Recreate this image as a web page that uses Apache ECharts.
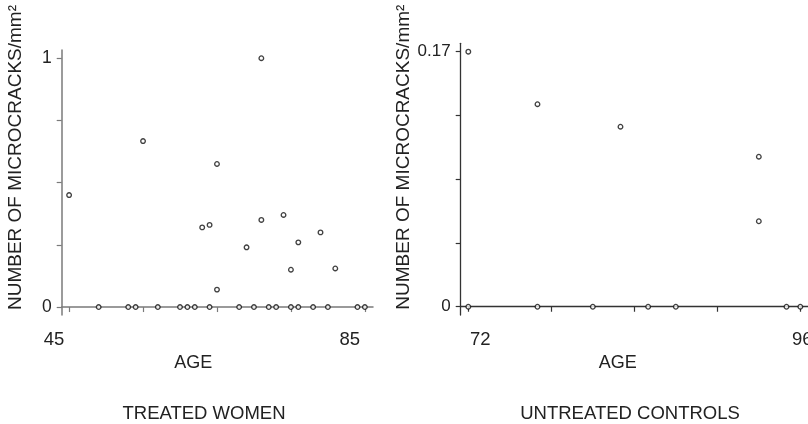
<!DOCTYPE html>
<html>
<head>
<meta charset="utf-8">
<script src="https://cdn.jsdelivr.net/npm/echarts@6/dist/echarts.min.js"></script>
<style>
html,body{margin:0;padding:0;background:#fff;}
#chart{width:808px;height:424px;}
</style>
</head>
<body>
<div id="chart"></div>
<script>
// Treated women
var treatedAge   = [45, 55, 63, 64, 65, 65, 69, 71, 71, 74, 75, 76, 79, 81,
                    49, 53, 54, 57, 60, 61, 62, 64, 68, 70, 72, 73, 75, 76, 78, 80, 84, 85];
var treatedValue = [0.45, 0.667, 0.32, 0.33, 0.575, 0.07, 0.24, 1.0, 0.35, 0.37, 0.15, 0.26, 0.30, 0.155,
                    0, 0, 0, 0, 0, 0, 0, 0, 0, 0, 0, 0, 0, 0, 0, 0, 0, 0];
// Untreated controls
var controlAge   = [72, 72, 77, 77, 81, 83, 85, 87, 93, 93, 95, 96];
var controlValue = [0.17, 0, 0.135, 0, 0, 0.12, 0, 0, 0.1, 0.057, 0, 0];

var treatedXTicks = [45, 55, 65, 75, 85];
var treatedXLabels = [45, 85];
var treatedYTicks = [0, 0.25, 0.5, 0.75, 1];
var treatedYLabels = [0, 1];
var controlXTicks = [72, 78, 84, 90, 96];
var controlXLabels = [72, 96];
var controlYTicks = [0, 0.0425, 0.085, 0.1275, 0.17];
var controlYLabels = [0, 0.17];

var yName = 'NUMBER OF MICROCRACKS/mm\u00B2';
var titles = ['TREATED WOMEN', 'UNTREATED CONTROLS'];

function zip(a, b) { return a.map(function (v, i) { return [v, b[i]]; }); }

var FONT = 'Liberation Sans, Arial, sans-serif';
var TXT = '#222';
var leftAxisColor = '#7a7a7a';
var rightAxisColor = '#333';

var chart = echarts.init(document.getElementById('chart'), null, {renderer: 'canvas'});
chart.setOption({
  backgroundColor: '#fff',
  animation: false,
  title: [
    {text: titles[0], left: 204, top: 404, textAlign: 'center', padding: 0,
     textStyle: {fontFamily: FONT, fontSize: 18.5, fontWeight: 'normal', color: TXT}},
    {text: titles[1], left: 630, top: 404, textAlign: 'center', padding: 0,
     textStyle: {fontFamily: FONT, fontSize: 18.5, fontWeight: 'normal', color: TXT}}
  ],
  grid: [
    {left: 61.7, top: 50, width: 311.3, height: 265, outerBoundsMode: 'none', containLabel: false},
    {left: 460.7, top: 43.3, width: 350, height: 271.7, outerBoundsMode: 'none', containLabel: false}
  ],
  xAxis: [
    {gridIndex: 0, type: 'value', min: 44, max: 86.1,
     name: 'AGE', nameLocation: 'middle', nameGap: 35,
     nameTextStyle: {fontFamily: FONT, fontSize: 18, color: TXT, padding: [0, 48, 0, 0]},
     axisLine: {lineStyle: {color: leftAxisColor, width: 1.5}},
     axisTick: {customValues: treatedXTicks, length: 5, lineStyle: {color: leftAxisColor, width: 1.2}},
     axisLabel: {customValues: treatedXLabels, margin: 15, fontFamily: FONT, fontSize: 18.5, color: TXT,
                 padding: [0, 30, 0, 0]},
     splitLine: {show: false}},
    {gridIndex: 1, type: 'value', min: 71.45, max: 96.75,
     name: 'AGE', nameLocation: 'middle', nameGap: 35,
     nameTextStyle: {fontFamily: FONT, fontSize: 18, color: TXT, padding: [0, 36, 0, 0]},
     axisLine: {lineStyle: {color: rightAxisColor, width: 1.3}},
     axisTick: {customValues: controlXTicks, length: 5, lineStyle: {color: rightAxisColor, width: 1.2}},
     axisLabel: {customValues: controlXLabels, margin: 15, fontFamily: FONT, fontSize: 18.5, color: TXT,
                 formatter: function (v) { return v === 72 ? '{a|72}' : '{b|' + v + '}'; },
                 rich: {a: {fontFamily: FONT, fontSize: 18.5, color: TXT, padding: [0, 0, 0, 24]},
                        b: {fontFamily: FONT, fontSize: 18.5, color: TXT, padding: [0, 0, 0, 4]}}},
     splitLine: {show: false}}
  ],
  yAxis: [
    {gridIndex: 0, type: 'value', min: -0.032, max: 1.033,
     name: yName, nameLocation: 'middle', nameGap: 36, nameRotate: 90,
     nameTextStyle: {fontFamily: FONT, fontSize: 19, color: TXT, padding: [0, 0, 0, 50]},
     axisLine: {show: true, lineStyle: {color: leftAxisColor, width: 1.5}},
     axisTick: {show: true, customValues: treatedYTicks, length: 5, lineStyle: {color: leftAxisColor, width: 1.2}},
     axisLabel: {customValues: treatedYLabels, margin: 10, fontFamily: FONT, fontSize: 17.5, color: TXT},
     splitLine: {show: false}},
    {gridIndex: 1, type: 'value', min: -0.0055, max: 0.1756,
     name: yName, nameLocation: 'middle', nameGap: 44, nameRotate: 90,
     nameTextStyle: {fontFamily: FONT, fontSize: 19, color: TXT, padding: [0, 0, 0, 44]},
     axisLine: {show: true, lineStyle: {color: rightAxisColor, width: 1.3}},
     axisTick: {show: true, customValues: controlYTicks, length: 5, lineStyle: {color: rightAxisColor, width: 1.2}},
     axisLabel: {customValues: controlYLabels, margin: 10, fontFamily: FONT, fontSize: 17, color: TXT,
                 formatter: function (v) { return String(v); }},
     splitLine: {show: false}}
  ],
  series: [
    {type: 'scatter', xAxisIndex: 0, yAxisIndex: 0, data: zip(treatedAge, treatedValue),
     symbol: 'circle', symbolSize: 4.6,
     itemStyle: {color: '#fff', borderColor: '#111', borderWidth: 1.3}},
    {type: 'scatter', xAxisIndex: 1, yAxisIndex: 1, data: zip(controlAge, controlValue),
     symbol: 'circle', symbolSize: 4.6,
     itemStyle: {color: '#fff', borderColor: '#111', borderWidth: 1.3}}
  ]
});
</script>
</body>
</html>
